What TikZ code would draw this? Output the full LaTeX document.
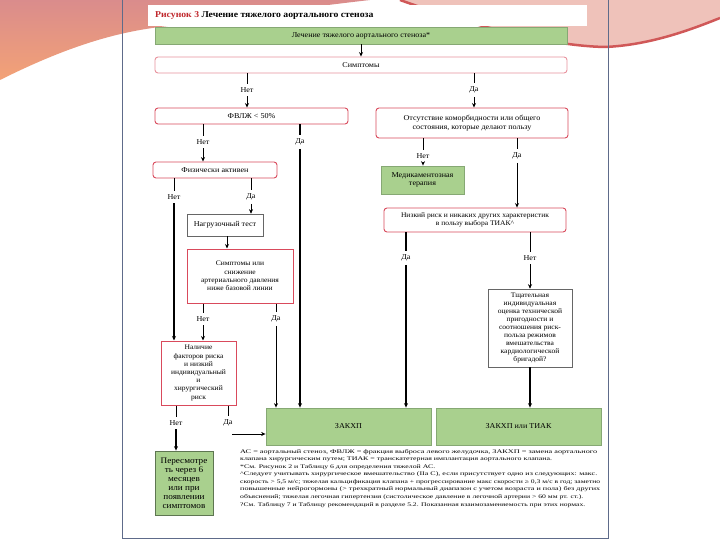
\documentclass[tikz,border=0pt]{standalone}
\usepackage{fontspec}
\usepackage{graphicx}
\setmainfont{Liberation Serif}[FakeStretch=1.08]
\usetikzlibrary{arrows.meta}
\definecolor{gfill}{HTML}{A9D08E}
\definecolor{gdraw}{HTML}{86A874}
\definecolor{boxred}{HTML}{D94A5C}
\definecolor{pagebd}{HTML}{5E6B8A}
\definecolor{swpink}{HTML}{DA8C8C}
\definecolor{sworange}{HTML}{F3A276}
\definecolor{swlight}{HTML}{EFC2BA}
\definecolor{swred}{HTML}{D05858}
\definecolor{titlered}{HTML}{C0282D}
\begin{document}
\begin{tikzpicture}[x=1pt,y=-1pt,
  every node/.style={font=\fontsize{7.5}{8.5}\selectfont},
  rbox/.style={draw=boxred, line width=0.9pt, rounded corners=3pt, fill=white, align=center, inner sep=1pt},
  sbox/.style={draw=boxred, line width=1pt, fill=white, align=center, inner sep=1pt},
  gbox/.style={draw=gdraw, line width=0.8pt, fill=gfill, align=center, inner sep=1pt},
  pbox/.style={draw=black!60, line width=0.6pt, fill=white, align=center, inner sep=1pt},
  lbl/.style={inner sep=3.5pt},
  conn/.style={line width=0.7pt},
  thk/.style={line width=1.5pt},
  arr/.style={-{Stealth[length=4.5pt,width=4pt]}}]
\useasboundingbox (0,0) rectangle (720,540);
% background
\fill[white] (0,0) rectangle (720,540);
\shade[top color=swpink, bottom color=sworange] (0,0) -- (370,0) .. controls (300,8) and (230,18) .. (160,27) .. controls (110,33) and (60,50) .. (0,80) -- cycle;
\fill[swlight] (400,0) .. controls (470,25) and (550,46) .. (605,47) .. controls (650,45) and (690,30) .. (720,18) -- (720,0) -- cycle;
\draw[swred, line width=2.5pt] (400,0) .. controls (470,25) and (550,46) .. (605,47) .. controls (650,45) and (690,30) .. (720,18);
\draw[pagebd, line width=1pt] (122,0) -- (122,538) -- (608,538) -- (608,0);
% title
\fill[white] (148,5) rectangle (587,26);
\node[anchor=west, font=\fontsize{9}{10}\selectfont\bfseries, inner sep=0] (title) at (155,15.5) {\textcolor{titlered}{Рисунок 3} Лечение тяжелого аортального стеноза};
% boxes
\fill[gdraw!80!black] (156,29) rectangle (568,45.5);
\node[gbox, minimum width=412pt, minimum height=17pt] (main) at (361,35.5) {Лечение тяжелого аортального стеноза*};
\node[rbox, draw=boxred!60, minimum width=412pt, minimum height=16pt] (symp) at (361,65) {Симптомы};
\node[rbox, minimum width=193pt, minimum height=16pt] (lvef) at (251.5,116) {ФВЛЖ < 50\%};
\node[rbox, minimum width=192pt, minimum height=30pt] (comorb) at (472,123) {Отсутствие коморбидности или общего\\состояния, которые делают пользу};
\node[rbox, minimum width=124pt, minimum height=16pt] (phys) at (215,170) {Физически активен};
\node[gbox, minimum width=83pt, minimum height=28pt] (med) at (422.5,180) {Медикаментозная\\терапия};
\node[pbox, minimum width=76pt, minimum height=22pt] (stress) at (225,225) {Нагрузочный тест};
\node[sbox, minimum width=106pt, minimum height=54pt, font=\fontsize{7}{8.3}\selectfont] (bp) at (240,276) {Симптомы или\\снижение\\артериального давления\\ниже базовой линии};
\node[rbox, minimum width=182pt, minimum height=24pt, font=\fontsize{7}{8.3}\selectfont] (lowrisk) at (475,220) {Низкий риск и никаких других характеристик\\в пользу выбора ТИАК\textasciicircum};
\node[pbox, minimum width=84pt, minimum height=78pt, font=\fontsize{7}{7.9}\selectfont] (heart) at (530,328) {Тщательная\\индивидуальная\\оценка технической\\пригодности и\\соотношения риск-\\польза режимов\\вмешательства\\кардиологической\\бригадой?};
\node[sbox, minimum width=75pt, minimum height=64pt, font=\fontsize{7}{8.2}\selectfont] (riskf) at (198.5,373) {Наличие\\факторов риска\\и низкий\\индивидуальный\\и\\хирургический\\риск};
\node[gbox, minimum width=165pt, minimum height=37pt] (savr) at (348.5,426.5) {ЗАКХП};
\node[gbox, minimum width=165pt, minimum height=37pt] (savrt) at (518.5,426.5) {ЗАКХП или ТИАК};
\node[gbox, draw=gdraw!70!black, minimum width=58pt, minimum height=64pt, font=\fontsize{8.5}{9}\selectfont] (review) at (184,483) {Пересмотре\\ть через 6\\месяцев\\или при\\появлении\\симптомов};
% labels
\node[lbl] (l1) at (247,90) {Нет};
\node[lbl] (l2) at (474,90) {Да};
\node[lbl] (l3) at (203,142) {Нет};
\node[lbl] (l4) at (300,142) {Да};
\node[lbl] (l5) at (423,156) {Нет};
\node[lbl] (l6) at (517,156) {Да};
\node[lbl] (l7) at (174,197) {Нет};
\node[lbl] (l8) at (251,197) {Да};
\node[lbl] (l9) at (203,319) {Нет};
\node[lbl] (l10) at (276,319) {Да};
\node[lbl] (l11) at (406,258) {Да};
\node[lbl] (l12) at (530,258) {Нет};
\node[lbl] (l13) at (176,423) {Нет};
\node[lbl] (l14) at (228,423) {Да};
\coordinate (dastart) at (232,434);
% connectors
\draw[conn,arr] (main.south) -- (symp.north);
\draw[conn] (symp.south -| l1) -- (l1);
\draw[conn,arr] (l1) -- (lvef.north -| l1);
\draw[conn] (symp.south -| l2) -- (l2);
\draw[conn,arr] (l2) -- (comorb.north -| l2);
\draw[conn] (lvef.south -| l3) -- (l3);
\draw[conn,arr] (l3) -- (phys.north -| l3);
\draw[thk] (lvef.south -| l4) -- (l4);
\draw[thk,arr] (l4) -- (savr.north -| l4);
\draw[conn] (comorb.south -| l5) -- (l5);
\draw[conn,arr] (l5) -- (med.north -| l5);
\draw[conn] (comorb.south -| l6) -- (l6);
\draw[conn,arr] (l6) -- (lowrisk.north -| l6);
\draw[conn] (phys.south -| l7) -- (l7);
\draw[thk,arr] (l7) -- (riskf.north -| l7);
\draw[conn] (phys.south -| l8) -- (l8);
\draw[conn,arr] (l8) -- (stress.north -| l8);
\draw[conn,arr] (stress.south -| 227,0) -- (bp.north -| 227,0);
\draw[conn] (bp.south -| l9) -- (l9);
\draw[conn,arr] (l9) -- (riskf.north -| l9);
\draw[conn] (bp.south -| l10) -- (l10);
\draw[conn,arr] (l10) -- (savr.north -| l10);
\draw[thk] (lowrisk.south -| l11) -- (l11);
\draw[thk,arr] (l11) -- (savr.north -| l11);
\draw[conn] (lowrisk.south -| l12) -- (l12);
\draw[conn,arr] (l12) -- (heart.north -| l12);
\draw[thk,arr] (heart.south) -- (savrt.north -| heart.south);
\draw[conn] (riskf.south -| l13) -- (l13);
\draw[thk,arr] (l13) -- (review.north -| l13);
\draw[conn] (riskf.south -| l14) -- (l14);
\draw[conn,arr] (dastart) -- (savr.west |- dastart);
% footnote
\node[anchor=north west, inner sep=0, align=left, font=\fontsize{5.5}{7.57}\selectfont] (fn) at (240,449) {%
\resizebox{357pt}{\height}{АС = аортальный стеноз, ФВЛЖ = фракция выброса левого желудочка, ЗАКХП = замена аортального}\\
\resizebox{312pt}{\height}{клапана хирургическим путем; ТИАК = транскатетерная имплантация аортального клапана.}\\
\resizebox{195pt}{\height}{*См. Рисунок 2 и Таблицу 6 для определения тяжелой АС.}\\
\resizebox{357pt}{\height}{\textasciicircum Следует учитывать хирургическое вмешательство (IIa C), если присутствует одно из следующих: макс.}\\
\resizebox{360pt}{\height}{скорость > 5,5 м/с; тяжелая кальцификация клапана + прогрессирование макс скорости ≥ 0,3 м/с в год; заметно}\\
\resizebox{360pt}{\height}{повышенные нейрогормоны (> трехкратный нормальный диапазон с учетом возраста и пола) без других}\\
\resizebox{343pt}{\height}{объяснений; тяжелая легочная гипертензия (систолическое давление в легочной артерии > 60 мм рт. ст.).}\\
\resizebox{345pt}{\height}{?См. Таблицу 7 и Таблицу рекомендаций в разделе 5.2. Показанная взаимозаменяемость при этих нормах.}};
\end{tikzpicture}
\end{document}
